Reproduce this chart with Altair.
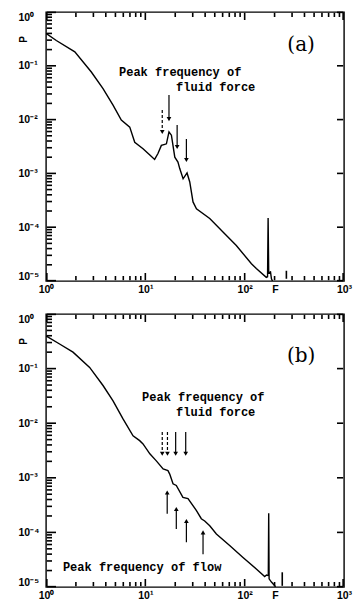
import altair as alt
import pandas as pd

# ---------------- data ----------------
# panel (a): power spectrum of fluid force
a_freq = [1.0, 1.27, 1.95, 2.86, 3.75, 4.73, 5.73, 6.97, 7.82, 9.48, 11.1, 12.4, 13.4,
          14.5, 15.7, 16.3, 17.3, 18.3, 19.8, 21.3, 22.2, 24.0, 26.3, 28.0, 30.2, 32.7,
          44.5, 60.5, 82.4, 117, 131, 165, 170, 172.2, 174.6, 182, 186, 190.5]
a_power = [0.40, 0.295, 0.182, 0.0767, 0.0376, 0.0186, 0.0098, 0.00724, 0.0038, 0.00288,
           0.00219, 0.00182, 0.00234, 0.00331, 0.00347, 0.00355, 0.00589, 0.00513, 0.00200,
           0.00162, 0.00123, 7.94e-4, 1.02e-3, 6.92e-4, 2.95e-4, 2.19e-4, 1.45e-4, 8.13e-5,
           4.57e-5, 2.09e-5, 1.70e-5, 1.17e-5, 1.20e-5, 1.48e-4, 1.41e-5, 1.48e-5, 1.10e-5, 1.0e-5]

# panel (b): power spectrum of flow
b_freq = [1.0, 1.37, 1.87, 2.75, 3.75, 4.73, 5.96, 7.52, 8.77, 9.48, 11.1, 12.9, 15.1,
          16.9, 17.6, 19.0, 20.5, 23.9, 26.9, 32.7, 36.6, 39.6, 44.5, 51.9, 70.6, 96.2,
          131, 159, 166, 173, 174.6, 176.2, 186, 200, 204]
b_power = [0.398, 0.282, 0.200, 0.105, 0.049, 0.0257, 0.0120, 0.00589, 0.00479, 0.00417,
           0.00275, 0.00204, 0.00145, 0.00135, 0.00117, 7.76e-4, 7.24e-4, 4.37e-4, 4.17e-4,
           2.51e-4, 1.78e-4, 1.62e-4, 1.32e-4, 9.33e-5, 5.75e-5, 3.47e-5, 2.14e-5, 1.55e-5,
           1.66e-5, 1.62e-5, 2.24e-4, 1.41e-5, 1.23e-5, 1.07e-5, 1.0e-5]

# arrows: frequency, tail, tip, line style, direction
a_arrow_freq = [14.8, 17.3, 20.9, 25.9]
a_arrow_tail = [1.51e-2, 2.88e-2, 7.94e-3, 4.37e-3]
a_arrow_tip = [5.89e-3, 1.02e-2, 3.09e-3, 1.78e-3]
a_arrow_style = ["dashed", "solid", "solid", "solid"]
a_arrow_dir = ["down", "down", "down", "down"]

b_arrow_freq = [14.8, 16.7, 20.2, 25.5, 16.6, 20.5, 25.9, 38.1]
b_arrow_tail = [6.92e-3, 6.92e-3, 6.92e-3, 6.92e-3, 2.19e-4, 1.15e-4, 6.61e-5, 3.98e-5]
b_arrow_tip = [2.75e-3, 2.75e-3, 2.75e-3, 2.75e-3, 5.37e-4, 2.69e-4, 1.62e-4, 1.0e-4]
b_arrow_style = ["dashed", "dashed", "solid", "solid", "solid", "solid", "solid", "solid"]
b_arrow_dir = ["down", "down", "down", "down", "up", "up", "up", "up"]

# annotations
a_text = ["Peak frequency of", "fluid force"]
a_text_f = [5.43, 20.4]
a_text_p = [7.67e-2, 4.04e-2]
b_text = ["Peak frequency of", "fluid force", "Peak frequency of flow"]
b_text_f = [9.27, 20.4, 1.48]
b_text_p = [3.05e-2, 1.62e-2, 2.29e-5]

panel_labels = ["(a)", "(b)"]
panel_label_f = [370, 370]
panel_label_p = [0.244, 0.172]

# small vertical mark right of F
marker_f = [263, 239]
marker_lo = [1.1e-5, 1.05e-5]
marker_hi = [1.55e-5, 1.86e-5]

# axes
x_label_values = [1, 10, 100, 202, 1000]
x_label_text = ["10⁰", "10¹", "10²", "F", "10³"]
y_label_values = [1, 1e-1, 1e-2, 1e-3, 1e-4, 1e-5]
y_label_text = ["10⁰", "10⁻¹", "10⁻²", "10⁻³", "10⁻⁴", "10⁻⁵"]
x_major = [1.02, 10.0, 100.0, 980.0]
x_minor = [float(m * 10 ** k) for k in range(3) for m in range(2, 10)]
y_major = [0.985, 1e-1, 1e-2, 1e-3, 1e-4, 1.015e-5]
y_minor = [m * 10.0 ** -k for k in range(1, 6) for m in range(2, 10)]

W = 298
H_A = 269
H_B = 273
X_DECADES = 3.0
Y_DECADES = 5.0
INSET = 0.8  # px: start of the inward ticks, just inside the frame


def label_expr(values, texts):
    parts = [f"abs(datum.value - {v}) < {v * 1e-6} ? '{t}'" for v, t in zip(values, texts)]
    return " : ".join(parts) + " : ''"


XS = alt.Scale(type="log", domain=[1, 1000])
YS = alt.Scale(type="log", domain=[1e-5, 1])
X_AXIS = alt.Axis(values=x_label_values, labelExpr=label_expr(x_label_values, x_label_text),
                  title=None, labelOverlap=False, labelFlush=False, labelPadding=3)
Y_AXIS = alt.Axis(values=y_label_values, labelExpr=label_expr(y_label_values, y_label_text),
                  title="P", titleAngle=270, titleX=-23, titleY=27, titleFontSize=10,
                  titleFont="Liberation Sans", titleFontWeight="bold",
                  titleAlign="center", titleBaseline="middle",
                  labelAlign="left", labelPadding=28,
                  labelOverlap=False, labelFlush=True)


def X(field):
    return alt.X(field, type="quantitative", scale=XS, axis=X_AXIS)


def Y(field):
    return alt.Y(field, type="quantitative", scale=YS, axis=Y_AXIS)


def panel(freq, power, arrows, texts, label, mfreq, mlo, mhi, H):
    curve = pd.DataFrame({"f": freq, "p": power, "i": list(range(len(freq)))})
    line = alt.Chart(curve).mark_line(color="black", strokeWidth=1.4, clip=True).encode(
        x=X("f"), y=Y("p"), order="i:Q",
    )
    # inward tick marks: lengths in pixels converted through the log scales
    ypx = Y_DECADES / H
    xpx = X_DECADES / W
    vf, vlo, vhi = [float(mfreq)], [mlo], [mhi]
    for vals, length in ((x_major, 8), (x_minor, 5)):
        for v in vals:
            vf += [v, v]
            vlo += [10 ** (-5 + INSET * ypx), 10 ** (-length * ypx)]
            vhi += [10 ** (-5 + length * ypx), 10 ** (-INSET * ypx)]
    vseg = pd.DataFrame({"f": vf, "lo": vlo, "hi": vhi})

    hp, hf0, hf1 = [], [], []
    for v in y_major:
        hp += [v, v]
        hf0 += [10 ** (INSET * xpx), 10 ** (3 - 7 * xpx)]
        hf1 += [10 ** (10 * xpx), 10 ** (3 - INSET * xpx)]
    for v in y_minor:
        hp.append(v)
        hf0.append(10 ** (INSET * xpx))
        hf1.append(10 ** (6 * xpx))
    hseg = pd.DataFrame({"p": hp, "f0": hf0, "f1": hf1})

    arr = alt.Chart(arrows)
    shafts = arr.mark_rule(color="black", strokeWidth=1.2).encode(
        x=X("f"), y=Y("tail"), y2="tip:Q",
        strokeDash=alt.StrokeDash("style:N", scale=alt.Scale(domain=["dashed", "solid"],
                                                            range=[[3, 2], [1, 0]]), legend=None),
    )
    heads = arr.mark_point(filled=True, color="black", size=22, opacity=1).encode(
        x=X("f"), y=Y("tip"),
        shape=alt.Shape("dir:N", scale=alt.Scale(domain=["down", "up"],
                                                 range=["triangle-down", "triangle-up"]), legend=None),
    )
    txt = alt.Chart(texts).mark_text(align="left", baseline="middle", font="Liberation Mono",
                                     fontWeight="bold", fontSize=12, color="black").encode(
        x=X("f"), y=Y("p"), text="t:N")
    lab = alt.Chart(label).mark_text(align="center", baseline="middle", font="DejaVu Serif",
                                     fontSize=20, color="black").encode(
        x=X("f"), y=Y("p"), text="t:N")
    vticks = alt.Chart(vseg).mark_rule(color="black", strokeWidth=1.6).encode(
        x=X("f"), y=Y("lo"), y2="hi:Q")
    hticks = alt.Chart(hseg).mark_rule(color="black", strokeWidth=1.6).encode(
        y=Y("p"), x=X("f0"), x2="f1:Q")

    return alt.layer(line, shafts, heads, txt, lab, vticks, hticks).properties(width=W, height=H)


pa = panel(
    a_freq, a_power,
    pd.DataFrame({"f": a_arrow_freq, "tail": a_arrow_tail, "tip": a_arrow_tip,
                  "style": a_arrow_style, "dir": a_arrow_dir}),
    pd.DataFrame({"t": a_text, "f": a_text_f, "p": a_text_p}),
    pd.DataFrame({"t": [panel_labels[0]], "f": [panel_label_f[0]], "p": [panel_label_p[0]]}),
    marker_f[0], marker_lo[0], marker_hi[0],
    H_A,
)
pb = panel(
    b_freq, b_power,
    pd.DataFrame({"f": b_arrow_freq, "tail": b_arrow_tail, "tip": b_arrow_tip,
                  "style": b_arrow_style, "dir": b_arrow_dir}),
    pd.DataFrame({"t": b_text, "f": b_text_f, "p": b_text_p}),
    pd.DataFrame({"t": [panel_labels[1]], "f": [panel_label_f[1]], "p": [panel_label_p[1]]}),
    marker_f[1], marker_lo[1], marker_hi[1],
    H_B,
)

chart = alt.vconcat(pa, pb, spacing=16).properties(
    padding={"left": 9, "top": 2, "right": 0, "bottom": 0}
).configure_view(stroke="black", strokeWidth=1.4).configure_axis(
    domain=False, ticks=False, grid=False, labelFont="Liberation Sans", labelFontSize=10.5,
    labelColor="black", labelFontWeight="bold",
)

chart.save("out.html", embed_options={"renderer": "svg", "actions": False})
